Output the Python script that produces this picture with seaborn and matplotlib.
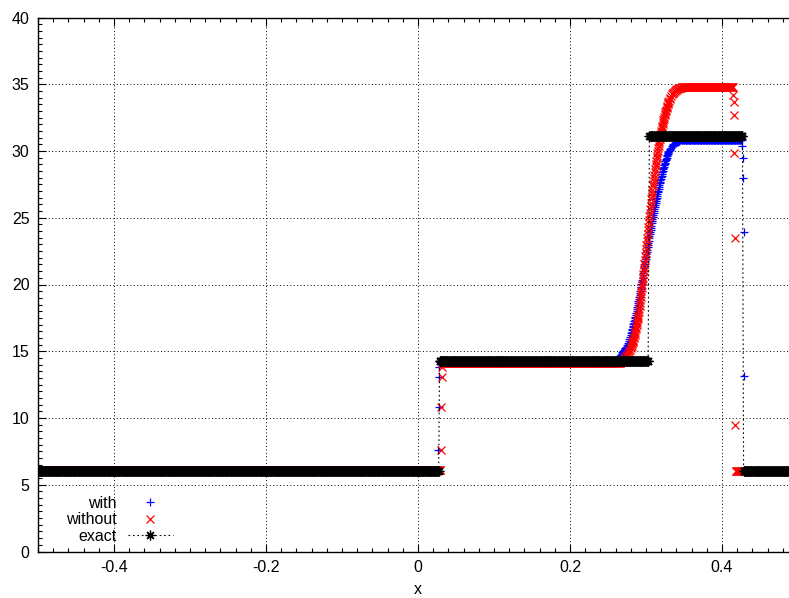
import numpy as np
import matplotlib
matplotlib.use("Agg")
import matplotlib.pyplot as plt
import seaborn as sns

# ---- data ----
dx = 0.0008  # sample spacing on the flat parts

# flat parts: (x start, x end, level)
exact_plateaus = [(-0.5, 0.0276, 6.0), (0.0284, 0.3035, 14.25),
                  (0.3045, 0.4276, 31.1), (0.4284, 0.5, 6.0)]
with_plateaus = [(-0.5, 0.0264, 6.0), (0.0285, 0.2595, 14.22),
                 (0.3505, 0.4262, 30.85), (0.4298, 0.5, 6.0)]
without_plateaus = [(-0.5, 0.0298, 6.08), (0.0318, 0.2655, 14.1),
                    (0.3505, 0.4145, 34.8), (0.4180, 0.5, 6.0)]

# left shock
with_shock1_x = [0.0268, 0.0272, 0.0276, 0.0280]
with_shock1_y = [7.6, 10.85, 13.07, 13.84]
without_shock1_x = [0.0302, 0.0306, 0.0310, 0.0314]
without_shock1_y = [7.6, 10.85, 13.07, 13.84]

# right shock
with_shock2_x = [0.4267, 0.4272, 0.4276, 0.4289, 0.4294]
with_shock2_y = [30.37, 29.45, 27.95, 23.96, 13.15]
without_shock2_x = [0.4149, 0.4153, 0.4158, 0.4163, 0.4168, 0.4174]
without_shock2_y = [34.2, 33.7, 32.7, 29.87, 23.46, 9.48]

# middle ramp, sampled every 0.001
with_ramp_x = np.linspace(0.260, 0.350, 91)
with_ramp_y = [14.30, 14.36, 14.42, 14.48, 14.54, 14.60, 14.67, 14.75, 14.83, 14.91,
               14.99, 15.07, 15.16, 15.24, 15.32, 15.47, 15.62, 15.77, 15.92, 16.07,
               16.22, 16.45, 16.68, 16.91, 17.14, 17.37, 17.60, 17.83, 18.13, 18.43,
               18.73, 19.03, 19.33, 19.67, 20.01, 20.35, 20.69, 21.03, 21.39, 21.74,
               22.09, 22.44, 22.79, 23.13, 23.45, 23.77, 24.09, 24.41, 24.73, 25.03,
               25.33, 25.63, 25.93, 26.23, 26.50, 26.77, 27.04, 27.31, 27.58, 27.81,
               28.04, 28.27, 28.50, 28.73, 28.93, 29.12, 29.31, 29.50, 29.69, 29.88,
               29.98, 30.07, 30.16, 30.25, 30.34, 30.43, 30.51, 30.54, 30.58, 30.61,
               30.64, 30.67, 30.70, 30.74, 30.77, 30.80, 30.81, 30.81, 30.82, 30.82,
               30.83]
without_ramp_x = np.linspace(0.266, 0.350, 85)
without_ramp_y = [14.14, 14.18, 14.23, 14.28, 14.34, 14.40, 14.46, 14.53, 14.62, 14.71,
                  14.80, 14.90, 15.00, 15.11, 15.26, 15.42, 15.60, 15.78, 15.96, 16.22,
                  16.50, 16.80, 17.10, 17.40, 17.75, 18.18, 18.62, 19.05, 19.50, 20.00,
                  20.50, 21.00, 21.55, 22.11, 22.67, 23.23, 23.80, 24.33, 24.85, 25.38,
                  25.88, 26.37, 26.86, 27.35, 27.78, 28.21, 28.63, 29.05, 29.44, 29.82,
                  30.20, 30.58, 30.88, 31.18, 31.48, 31.77, 32.03, 32.29, 32.55, 32.80,
                  33.00, 33.20, 33.40, 33.60, 33.74, 33.87, 34.00, 34.13, 34.26, 34.32,
                  34.38, 34.44, 34.50, 34.55, 34.60, 34.65, 34.67, 34.69, 34.71, 34.73,
                  34.74, 34.76, 34.77, 34.79, 34.80]

# steep part read again at the half steps (0.2805 ... 0.3295)
fine_x = np.linspace(0.2805, 0.3295, 50)
with_fine_y = [16.34, 16.57, 16.80, 17.03, 17.26, 17.49, 17.72, 17.98, 18.28, 18.58,
               18.88, 19.18, 19.50, 19.84, 20.18, 20.52, 20.86, 21.21, 21.57, 21.92,
               22.27, 22.62, 22.96, 23.29, 23.61, 23.93, 24.25, 24.57, 24.88, 25.18,
               25.48, 25.78, 26.08, 26.37, 26.64, 26.91, 27.18, 27.45, 27.70, 27.93,
               28.16, 28.39, 28.62, 28.83, 29.03, 29.22, 29.41, 29.60, 29.79, 29.93]
without_fine_y = [15.34, 15.51, 15.69, 15.87, 16.09, 16.36, 16.65, 16.95, 17.25, 17.57,
                  17.96, 18.40, 18.83, 19.27, 19.75, 20.25, 20.75, 21.27, 21.83, 22.39,
                  22.95, 23.51, 24.06, 24.59, 25.11, 25.63, 26.12, 26.61, 27.10, 27.56,
                  28.00, 28.42, 28.84, 29.24, 29.63, 30.01, 30.39, 30.73, 31.03, 31.33,
                  31.62, 31.90, 32.16, 32.42, 32.67, 32.90, 33.10, 33.30, 33.50, 33.67]

x_ticks = [-0.4, -0.2, 0.0, 0.2, 0.4]
x_ticklabels = ["-0.4", "-0.2", "0", "0.2", "0.4"]
y_ticks = [0, 5, 10, 15, 20, 25, 30, 35, 40]


def build(plateaus, extra_x=(), extra_y=()):
    xs, ys = [], []
    for a, b, lev in plateaus:
        px = np.arange(a, b + 1e-9, dx)
        xs.extend(px)
        ys.extend([lev] * len(px))
    xs.extend(extra_x)
    ys.extend(extra_y)
    xs = np.asarray(xs)
    ys = np.asarray(ys)
    order = np.argsort(xs, kind="stable")
    return xs[order], ys[order]


ex_x, ex_y = build(exact_plateaus)
w_x, w_y = build(with_plateaus,
                 list(with_shock1_x) + list(with_ramp_x) + list(fine_x) + list(with_shock2_x),
                 list(with_shock1_y) + list(with_ramp_y) + list(with_fine_y) + list(with_shock2_y))
wo_x, wo_y = build(without_plateaus,
                   list(without_shock1_x) + list(without_ramp_x) + list(fine_x) + list(without_shock2_x),
                   list(without_shock1_y) + list(without_ramp_y) + list(without_fine_y) + list(without_shock2_y))

# ---- style ----
sns.set_theme(style="ticks")
plt.rcParams["font.family"] = ["Liberation Sans", "DejaVu Sans"]
plt.rcParams["axes.unicode_minus"] = False
plt.rcParams["text.color"] = "black"
plt.rcParams["axes.labelcolor"] = "black"

fig = plt.figure(figsize=(7.89, 5.98), dpi=100)
ax = fig.add_axes([38 / 789, 46.5 / 598, 760 / 789, 534 / 598])

sns.lineplot(x=w_x, y=w_y, ax=ax, sort=False, estimator=None, linestyle="none",
             marker="+", markersize=6, color="blue", markeredgecolor="blue",
             markeredgewidth=0.9, label="with")
sns.lineplot(x=wo_x, y=wo_y, ax=ax, sort=False, estimator=None, linestyle="none",
             marker="x", markersize=5.5, color="red", markeredgecolor="red",
             markeredgewidth=0.9, label="without")
sns.lineplot(x=ex_x, y=ex_y, ax=ax, sort=False, estimator=None,
             linestyle=(0, (1.5, 2.5)), linewidth=0.8, color="black",
             marker=(8, 2, 0), markersize=7, markeredgecolor="black",
             markeredgewidth=0.9, label="exact")

ax.set_xlim(-0.5, 0.5)
ax.set_ylim(0, 40)
ax.set_xticks(x_ticks)
ax.set_xticklabels(x_ticklabels)
ax.set_yticks(y_ticks)
ax.set_yticklabels([str(v) for v in y_ticks])
ax.xaxis.set_minor_locator(matplotlib.ticker.MultipleLocator(0.02))
ax.yaxis.set_minor_locator(matplotlib.ticker.MultipleLocator(0.5))
ax.tick_params(which="both", direction="in", top=True, right=True,
               colors="black", width=0.8, labelsize=11.5)
ax.tick_params(which="major", length=6, pad=6)
ax.tick_params(which="minor", length=3)
for s in ax.spines.values():
    s.set_linewidth(1.0)
    s.set_color("black")

ax.grid(True, which="major", color="black", linestyle=(0, (1, 2.5)), linewidth=0.7)
ax.set_axisbelow(True)
ax.set_facecolor("white")
ax.set_xlabel("x", fontsize=11.5, labelpad=5, color="black")
ax.set_ylabel("")

leg = ax.legend(loc="lower left", bbox_to_anchor=(0.037, 0.014), markerfirst=False,
                frameon=False, handlelength=2.8, handletextpad=0.7, labelspacing=0.1,
                borderpad=0, borderaxespad=0, fontsize=11.5, numpoints=1)
for t in leg.get_texts():
    t.set_color("black")

fig.savefig("out.png", dpi=100, facecolor="white")
